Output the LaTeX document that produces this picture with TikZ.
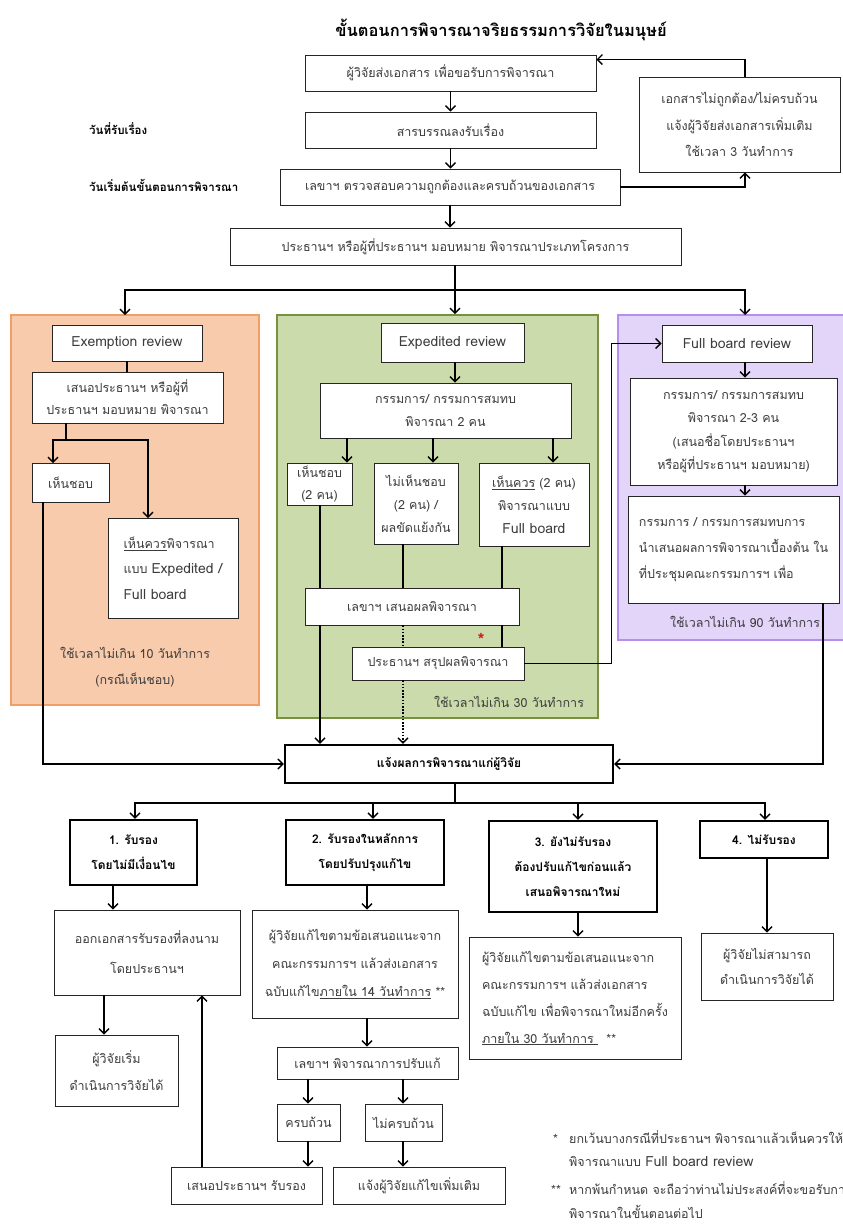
\documentclass[tikz,border=0pt]{standalone}
\usepackage{fontspec}
\setmainfont{Loma}[Script=Thai]
\usetikzlibrary{arrows.meta,calc}

\definecolor{exfill}{RGB}{248,203,173}
\definecolor{exline}{RGB}{240,160,100}
\definecolor{edfill}{RGB}{203,219,172}
\definecolor{edline}{RGB}{118,146,60}
\definecolor{fbfill}{RGB}{227,212,250}
\definecolor{fbline}{RGB}{182,142,238}
\definecolor{txtc}{RGB}{60,60,60}
\definecolor{starc}{RGB}{205,35,30}

\newcommand\fs[2]{\fontsize{#1}{#2}\selectfont}
% Latin words are set a little larger than the Thai around them
\newcommand\lat[1]{{\fontsize{14}{0}\selectfont #1}}
% box from corner (x1,y1) to corner (x2,y2): style, name, x1, y1, x2, y2, text
\newcommand\bx[7]{\node[#1,minimum width={(#5)-(#3)},minimum height={(#6)-(#4)}] (#2) at ({((#3)+(#5))/2},{((#4)+(#6))/2}) {#7};}

\begin{document}
\begin{tikzpicture}[x=1pt,y=-1pt,
  box/.style={draw=black!85, line width=0.9pt, fill=white, inner sep=1pt, align=center, text=txtc, font=\fs{12.5}{23}},
  tbox/.style={box, draw=black, line width=2.2pt, text=black, font=\fs{12}{25}\bfseries},
  panel/.style={line width=2pt, inner sep=0pt},
  lbl/.style={inner sep=0pt, text=txtc, font=\fs{12.5}{23}, align=center},
  side/.style={inner sep=0pt, anchor=west, text=black, font=\fs{11.5}{23}\bfseries},
  ln/.style={line width=1.4pt, draw=black},
  arr/.style={ln, -{Straight Barb[length=5pt,width=10pt]}},
  dotl/.style={dash pattern=on 1.6pt off 1.6pt}
]
\useasboundingbox (0,0) rectangle (843,1224);
\clip (0,0) rectangle (843,1224);
\fill[white] (0,0) rectangle (843,1224);

% ---------- title and intake ----------
\node[font=\fs{16.5}{19}\bfseries, inner sep=0pt] (title) at (501,30) {ขั้นตอนการพิจารณาจริยธรรมการวิจัยในมนุษย์};

\bx{box}{A}{305}{55}{596}{91}{ผู้วิจัยส่งเอกสาร เพื่อขอรับการพิจารณา}
\bx{box}{B}{305}{112}{596}{148}{สารบรรณลงรับเรื่อง}
\bx{box}{C}{280}{169}{620}{205}{เลขาฯ ตรวจสอบความถูกต้องและครบถ้วนของเอกสาร}
\bx{box}{D}{230}{228}{681}{265}{ประธานฯ หรือผู้ที่ประธานฯ มอบหมาย พิจารณาประเภทโครงการ}
\bx{box, font=\fs{12.5}{26.5}}{E}{639}{77}{840}{172}{เอกสารไม่ถูกต้อง/ไม่ครบถ้วน\\แจ้งผู้วิจัยส่งเอกสารเพิ่มเติม\\ใช้เวลา 3 วันทำการ}

\node[side] (lab1) at (89,129) {วันที่รับเรื่อง};
\node[side] (lab2) at (89,185) {วันเริ่มต้นขั้นตอนการพิจารณา};

\coordinate (rx) at (745,0);
\coordinate (split) at (455,290);
\coordinate (tO) at (125,315);
\coordinate (tP) at (745,315);

% ---------- review panels ----------
\bx{panel, fill=exfill, draw=exline}{pO}{11}{315}{259}{705}{}
\bx{panel, fill=edfill, draw=edline}{pG}{277}{315}{598}{718}{}
\bx{panel, fill=fbfill, draw=fbline}{pP}{618}{315}{852}{640}{}

% exemption
\bx{box, font=\fs{14}{23}}{exem}{52}{325}{202}{361}{Exemption review}
\bx{box, font=\fs{12.5}{22}}{obox}{32}{372}{223}{423}{เสนอประธานฯ หรือผู้ที่\\ประธานฯ มอบหมาย พิจารณา}
\bx{box}{oyes}{32}{463}{109}{502}{เห็นชอบ}
\bx{box, align=left, font=\fs{12.5}{25.5}}{orec}{108}{518}{238}{618}{\underline{เห็นควร}พิจารณา\\แบบ \lat{Expedited /}\\\lat{Full board}}
\node[lbl, font=\fs{12.5}{26}] (otime) at (135,667) {ใช้เวลาไม่เกิน 10 วันทำการ\\(กรณีเห็นชอบ)};

% expedited
\bx{box, font=\fs{14}{23}}{exped}{381}{323}{524}{362}{Expedited review}
\bx{box, font=\fs{12.5}{23}}{gcom}{320}{383}{571}{438}{กรรมการ/ กรรมการสมทบ\\พิจารณา 2 คน}
\bx{box, font=\fs{12.5}{22}}{g1}{287}{463}{352}{505}{เห็นชอบ\\(2 คน)}
\bx{box, font=\fs{12.5}{23}}{g2}{374}{463}{458}{544}{ไม่เห็นชอบ\\(2 คน) /\\ผลขัดแย้งกัน}
\bx{box, font=\fs{12.5}{23}}{g3}{479}{463}{589}{546}{\underline{เห็นควร} (2 คน)\\พิจารณาแบบ\\\lat{Full board}}
\bx{box}{sec}{305}{588}{519}{625}{เลขาฯ เสนอผลพิจารณา}
\bx{box}{chair}{352}{647}{524}{680}{ประธานฯ สรุปผลพิจารณา}
\node[inner sep=0pt, text=starc, font=\fs{18}{18}\bfseries] (star) at (481,640) {*};
\node[lbl] (gtime) at (509,702) {ใช้เวลาไม่เกิน 30 วันทำการ};

% full board
\bx{box, font=\fs{14}{23}}{fb}{662}{325}{812}{362}{Full board review}
\bx{box, font=\fs{12.5}{23.3}}{pb2}{630}{378}{837}{485}{กรรมการ/ กรรมการสมทบ\\พิจารณา 2-3 คน\\(เสนอชื่อโดยประธานฯ\\หรือผู้ที่ประธานฯ มอบหมาย)}
\bx{box, align=left, font=\fs{12.5}{26}}{pb3}{628}{496}{839}{603}{กรรมการ / กรรมการสมทบการ\\นำเสนอผลการพิจารณาเบื้องต้น ใน\\ที่ประชุมคณะกรรมการฯ เพื่อ}
\node[lbl] (ptime) at (745,622) {ใช้เวลาไม่เกิน 90 วันทำการ};

% ---------- result ----------
\bx{tbox}{notify}{285}{745}{613}{783}{แจ้งผลการพิจารณาแก่ผู้วิจัย}
\coordinate (bar) at (455,803);

\bx{tbox}{r1}{70}{820}{197}{885}{1. รับรอง\\โดยไม่มีเงื่อนไข}
\bx{tbox}{r2}{286}{820}{444}{885}{2. รับรองในหลักการ\\โดยปรับปรุงแก้ไข}
\bx{tbox}{r3}{489}{821}{657}{912}{3. ยังไม่รับรอง\\ต้องปรับแก้ไขก่อนแล้ว\\เสนอพิจารณาใหม่}
\bx{tbox}{r4}{700}{821}{828}{858}{4. ไม่รับรอง}

\bx{box, font=\fs{12.5}{30}}{ok1}{54}{910}{240}{995}{ออกเอกสารรับรองที่ลงนาม\\โดยประธานฯ}
\bx{box, font=\fs{12.5}{28}}{fix14}{252}{910}{458}{1018}{ผู้วิจัยแก้ไขตามข้อเสนอแนะจาก\\คณะกรรมการฯ แล้วส่งเอกสาร\\ฉบับแก้ไข\underline{ภายใน 14 วันทำการ} **}
\bx{box, align=left, font=\fs{12.5}{27}}{fix30}{469}{937}{681}{1059}{ผู้วิจัยแก้ไขตามข้อเสนอแนะจาก\\คณะกรรมการฯ แล้วส่งเอกสาร\\ฉบับแก้ไข เพื่อพิจารณาใหม่อีกครั้ง\\\underline{ภายใน 30 วันทำการ }\ \ **}
\bx{box, font=\fs{12.5}{25}}{stop}{701}{933}{833}{1000}{ผู้วิจัยไม่สามารถ\\ดำเนินการวิจัยได้}
\bx{box, font=\fs{12.5}{27}}{start}{55}{1035}{178}{1106}{ผู้วิจัยเริ่ม\\ดำเนินการวิจัยได้}
\bx{box}{secfix}{277}{1047}{458}{1079}{เลขาฯ พิจารณาการปรับแก้}
\bx{box}{full}{277}{1104}{340}{1141}{ครบถ้วน}
\bx{box}{incom}{365}{1104}{442}{1141}{ไม่ครบถ้วน}
\bx{box}{propose}{171}{1167}{322}{1204}{เสนอประธานฯ รับรอง}
\bx{box}{notice}{333}{1167}{505}{1204}{แจ้งผู้วิจัยแก้ไขเพิ่มเติม}

% notes
\node[lbl, anchor=west] (m1) at (553,1139) {*};
\node[lbl, anchor=west] (n1) at (569,1137) {ยกเว้นบางกรณีที่ประธานฯ พิจารณาแล้วเห็นควรให้};
\node[lbl, anchor=west] (n2) at (569,1162) {พิจารณาแบบ \lat{Full board review}};
\node[lbl, anchor=west] (m2) at (551,1190) {**};
\node[lbl, anchor=west] (n3) at (569,1188) {หากพ้นกำหนด จะถือว่าท่านไม่ประสงค์ที่จะขอรับการ};
\node[lbl, anchor=west] (n4) at (569,1212) {พิจารณาในขั้นตอนต่อไป};

% ---------- connectors: intake ----------
\draw[arr] (A.south) -- (A.south |- B.north);
\draw[arr] (B.south) -- (B.south |- C.north);
\draw[arr] (C.south) -- (C.south |- D.north);
\draw[arr] (C.east) -| (rx |- E.south);
\draw[arr] (rx |- E.north) |- ($(A.north east)+(0,5)$);
\draw[ln] (D.south -| split) -- (split);
\draw[arr] (split) -| (tO);
\draw[arr] (split) -- (split |- pG.north);
\draw[arr] (split) -| (tP);

% exemption
\coordinate (ob) at (66,440);
\coordinate (oyT) at (53,463);
\coordinate (orT) at (148,518);
\coordinate (oL) at (43,0);
\draw[ln] (exem.south) -- (exem.south |- obox.north);
\draw[ln] (ob |- obox.south) -- (ob);
\draw[arr] (ob) -| (oyT);
\draw[arr] (ob) -| (orT);
\draw[arr] (oyes.south -| oL) |- (notify.west);

% expedited
\coordinate (ga) at (347,0);
\coordinate (gb) at (433,0);
\coordinate (gc) at (553,0);
\coordinate (gA) at (320,0);
\coordinate (gB) at (403,0);
\coordinate (gC) at (502,0);
\draw[arr] (exped.south -| split) -- (gcom.north -| split);
\draw[arr] (gcom.south -| ga) -- (g1.north -| ga);
\draw[arr] (gcom.south -| gb) -- (g2.north -| gb);
\draw[arr] (gcom.south -| gc) -- (g3.north -| gc);
\draw[ln] (g1.south -| gA) -- (sec.north -| gA);
\draw[ln] (g2.south -| gB) -- (sec.north -| gB);
\draw[ln] (g3.south -| gC) -- (sec.north -| gC);
\draw[arr] (sec.south -| gA) -- (notify.north -| gA);
\draw[ln, dotl] (sec.south -| gB) -- (chair.north -| gB);
\draw[ln] (sec.south -| gC) -- (chair.north -| gC);
\draw[arr, dotl] (chair.south -| gB) -- (notify.north -| gB);
\draw[arr] (chair.east) -| ($(fb.west)+(-50,0)$) -- (fb.west);

% full board
\coordinate (pR) at (823,0);
\draw[arr] (fb.south -| rx) -- (pb2.north -| rx);
\draw[arr] (pb2.south -| rx) -- (pb3.north -| rx);
\draw[arr] (pb3.south -| pR) |- (notify.east);

% ---------- connectors: result ----------
\coordinate (c1) at (135,0);
\coordinate (c2) at (373,0);
\coordinate (c3) at (578,0);
\coordinate (c4) at (765,0);
\draw[ln] (notify.south -| bar) -- (bar);
\draw[arr] (bar) -| (r1.north -| c1);
\draw[arr] (bar) -| (r2.north -| c2);
\draw[arr] (bar) -| (r3.north -| c3);
\draw[arr] (bar) -| (r4.north -| c4);

\coordinate (d1) at (113,0);
\coordinate (d2) at (367,0);
\coordinate (d4) at (767,0);
\coordinate (e1) at (104,0);
\coordinate (e2) at (308,0);
\coordinate (e3) at (403,0);
\coordinate (u1) at (202,0);
\draw[arr] (r1.south -| d1) -- (ok1.north -| d1);
\draw[arr] (r2.south -| d2) -- (fix14.north -| d2);
\draw[arr] (r3.south -| c3) -- (fix30.north -| c3);
\draw[arr] (r4.south -| d4) -- (stop.north -| d4);
\draw[arr] (ok1.south -| e1) -- (start.north -| e1);
\draw[arr] (fix14.south -| d2) -- (secfix.north -| d2);
\draw[arr] (secfix.south -| e2) -- (full.north -| e2);
\draw[arr] (secfix.south -| e3) -- (incom.north -| e3);
\draw[arr] (full.south -| e2) -- (propose.north -| e2);
\draw[arr] (incom.south -| e3) -- (notice.north -| e3);
\draw[arr] (propose.north -| u1) -- (ok1.south -| u1);
\end{tikzpicture}
\end{document}
